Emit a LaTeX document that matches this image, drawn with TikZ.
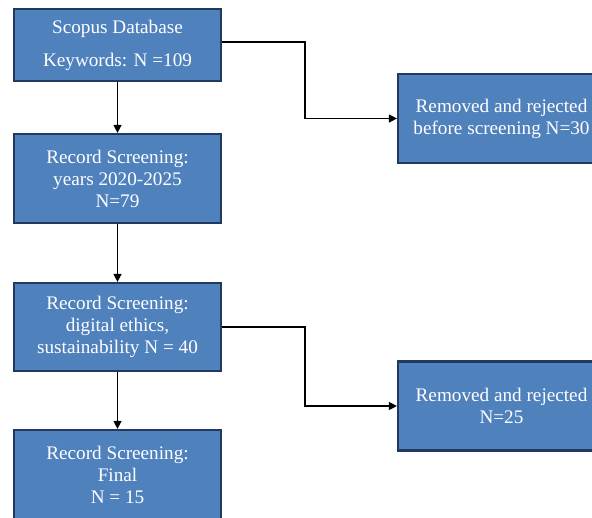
\documentclass[tikz,border=0pt]{standalone}
\usepackage{fontspec}
\setmainfont{Liberation Serif}
\usetikzlibrary{arrows.meta}
\definecolor{boxblue}{HTML}{4F81BD}
\definecolor{boxedge}{HTML}{223A5E}
\begin{document}
\begin{tikzpicture}[x=1pt, y=-1pt,
    box/.style={draw=boxedge, line width=2.2pt, fill=boxblue, text=white,
      minimum width=207pt, align=center, inner sep=2pt,
      font=\fontsize{19.2}{22}\selectfont},
    flow/.style={-{Triangle[length=8pt,width=8pt]}, line width=1.3pt}]
    \useasboundingbox (0,0) rectangle (592,517);

    % Screening steps (left column)
    \node[box, minimum height=72pt] (db)  at (117.5,45)  {Scopus Database\\[11pt]Keywords: N =109};
    \node[box, minimum height=89pt] (yrs) at (117.5,178.5) {Record Screening:\\years 2020-2025\\N=79};
    \node[box, minimum height=88pt] (eth) at (117.5,327) {Record Screening:\\digital ethics,\\sustainability N = 40};
    \node[box, minimum height=90pt] (fin) at (117.5,475) {Record Screening:\\Final\\N = 15};

    % Removed records (right column)
    \node[box, minimum height=89pt] (rm1) at (501.5,118.5) {Removed and rejected\\before screening N=30};
    \node[box, minimum height=89pt] (rm2) at (501.5,406) {Removed and rejected\\N=25};

    % Arrows down the column
    \draw[flow] (db) -- (yrs);
    \draw[flow] (yrs) -- (eth);
    \draw[flow] (eth) -- (fin);

    % Side branches
    \draw[flow] ([yshift=3pt]db.east) -- ++(83,0) |- (rm1.west);
    \draw[flow] (eth.east) -- ++(83,0) |- (rm2.west);
\end{tikzpicture}
\end{document}
